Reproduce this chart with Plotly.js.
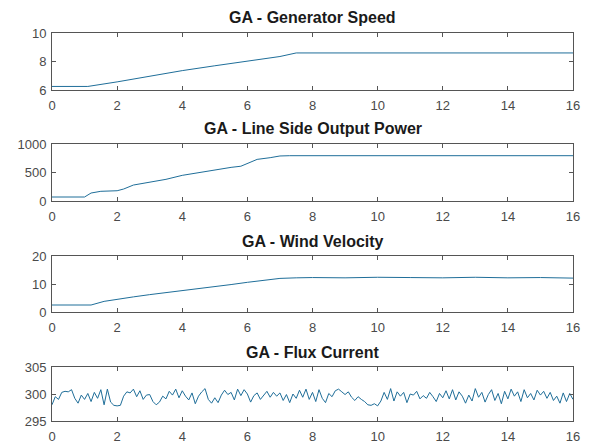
<!DOCTYPE html>
<html>
<head>
<meta charset="utf-8">
<script src="https://cdn.plot.ly/plotly-3.0.1.min.js"></script>
<style>html,body{margin:0;padding:0;background:#fff;}#chart{width:590px;height:445px;}</style>
</head>
<body>
<div id="chart"></div>
<script>
// ---- data ----
const titles = ["GA - Generator Speed", "GA - Line Side Output Power", "GA - Wind Velocity", "GA - Flux Current"];
const xTicks = [0, 2, 4, 6, 8, 10, 12, 14, 16];

const speedT = [0, 1.1, 2, 3, 4, 5, 6, 7, 7.5, 16];
const speedV = [6.25, 6.25, 6.57, 6.97, 7.36, 7.7, 8.02, 8.35, 8.6, 8.6];

const powerT = [0, 1.0, 1.2, 1.5, 2.0, 2.2, 2.5, 3.0, 3.5, 4.0, 4.3, 4.7, 5.0, 5.5, 5.8, 6.0, 6.3, 6.7, 7.0, 7.3, 16];
const powerV = [70, 70, 140, 170, 180, 210, 280, 330, 380, 450, 480, 510, 540, 590, 610, 660, 730, 760, 790, 795, 795];

const windT = [0, 1.2, 1.6, 2.0, 2.5, 3.0, 3.5, 4.0, 4.5, 5.0, 5.5, 6.0, 6.5, 7.0, 7.5, 8, 9, 10, 11, 12, 13, 14, 15, 16];
const windV = [2.5, 2.5, 3.8, 4.6, 5.4, 6.2, 6.9, 7.5, 8.3, 9.0, 9.8, 10.6, 11.3, 12.0, 12.2, 12.3, 12.2, 12.4, 12.3, 12.2, 12.4, 12.2, 12.3, 12.1];

const fluxV = [298.0,299.5,299.0,300.3,300.5,300.4,300.8,299.2,298.3,299.8,
299.0,300.1,298.6,300.3,299.2,300.8,298.0,300.9,298.5,297.9,
297.8,297.9,299.6,300.4,300.2,300.9,299.5,300.6,299.0,299.8,
299.9,298.6,298.0,298.5,299.6,299.1,300.5,299.8,300.9,299.3,
300.6,299.6,298.9,300.2,298.2,299.6,300.4,301.0,299.0,298.3,
299.3,298.4,299.8,300.7,299.9,300.3,298.9,300.9,299.7,300.8,
300.0,298.5,299.7,300.2,299.0,299.8,300.5,299.4,300.3,299.6,
300.2,298.8,299.9,298.4,300.0,299.2,300.7,299.4,300.9,299.0,
300.3,298.6,300.8,299.2,298.4,300.1,299.5,300.6,300.9,300.4,
299.9,300.4,299.4,298.8,299.5,299.0,298.6,298.0,297.9,298.2,
297.8,298.7,300.3,299.0,301.0,298.7,300.4,299.6,300.3,298.4,
300.0,299.8,300.5,299.1,299.7,299.2,300.3,299.5,298.6,300.1,
299.3,300.6,299.1,300.8,298.9,300.4,299.6,298.3,299.8,298.7,
301.0,299.4,300.3,298.5,299.9,300.8,298.8,300.1,298.2,300.5,
299.1,300.9,299.6,300.4,298.6,300.8,299.3,300.1,298.9,300.7,
299.8,300.5,299.2,300.3,298.8,299.6,298.3,300.2,298.6,300.1,
299.0];
const fluxT = fluxV.map((_, i) => i / 10);

const yRanges = [[6, 10], [0, 1000], [0, 20], [295, 305]];
const yTicks = [[6, 8, 10], [0, 500, 1000], [0, 10, 20], [295, 300, 305]];

// ---- layout ----
const W = 590, H = 445;
const left = 52, right = 573;
const boxes = [[33, 90], [144, 201], [256, 312], [367, 421]];
const titleY = [17, 129, 241, 352];
const lineColor = "#1f6e99";
const axColor = "#555555";
const font = {family: "Liberation Sans, Arial, sans-serif", size: 13, color: "#4a4a4a"};

const series = [[speedT, speedV], [powerT, powerV], [windT, windV], [fluxT, fluxV]];
const data = series.map((s, i) => ({
  x: s[0], y: s[1], type: "scatter", mode: "lines",
  line: {color: lineColor, width: 1},
  xaxis: i === 0 ? "x" : "x" + (i + 1),
  yaxis: i === 0 ? "y" : "y" + (i + 1),
  hoverinfo: "skip", showlegend: false
}));

const layout = {
  width: W, height: H,
  margin: {l: 0, r: 0, t: 0, b: 0},
  paper_bgcolor: "#fff", plot_bgcolor: "#fff",
  font: font, showlegend: false,
  annotations: []
};
for (let i = 0; i < 4; i++) {
  const xa = i === 0 ? "xaxis" : "xaxis" + (i + 1);
  const ya = i === 0 ? "yaxis" : "yaxis" + (i + 1);
  layout[xa] = {
    domain: [left / W, right / W], range: [0, 16], tickvals: xTicks,
    ticks: "inside", ticklen: 4, tickcolor: axColor, showline: true, linecolor: axColor,
    linewidth: 1, mirror: "ticks", showgrid: false, zeroline: false, ticklabelstandoff: 3,
    anchor: i === 0 ? "y" : "y" + (i + 1), tickfont: font
  };
  layout[ya] = {
    domain: [1 - boxes[i][1] / H, 1 - boxes[i][0] / H], range: yRanges[i], tickvals: yTicks[i],
    ticks: "inside", ticklen: 4, tickcolor: axColor, showline: true, linecolor: axColor,
    linewidth: 1, mirror: "ticks", showgrid: false, zeroline: false, ticklabelstandoff: 2,
    anchor: i === 0 ? "x" : "x" + (i + 1), tickfont: font
  };
  layout.annotations.push({
    text: "<b>" + titles[i] + "</b>", xref: "paper", yref: "paper",
    x: (left + right) / 2 / W, y: 1 - titleY[i] / H, xanchor: "center", yanchor: "middle",
    showarrow: false, font: {family: "Liberation Sans, Arial, sans-serif", size: 16, color: "#1a1a1a"}
  });
}

Plotly.newPlot("chart", data, layout, {staticPlot: true, displayModeBar: false});
</script>
</body>
</html>
